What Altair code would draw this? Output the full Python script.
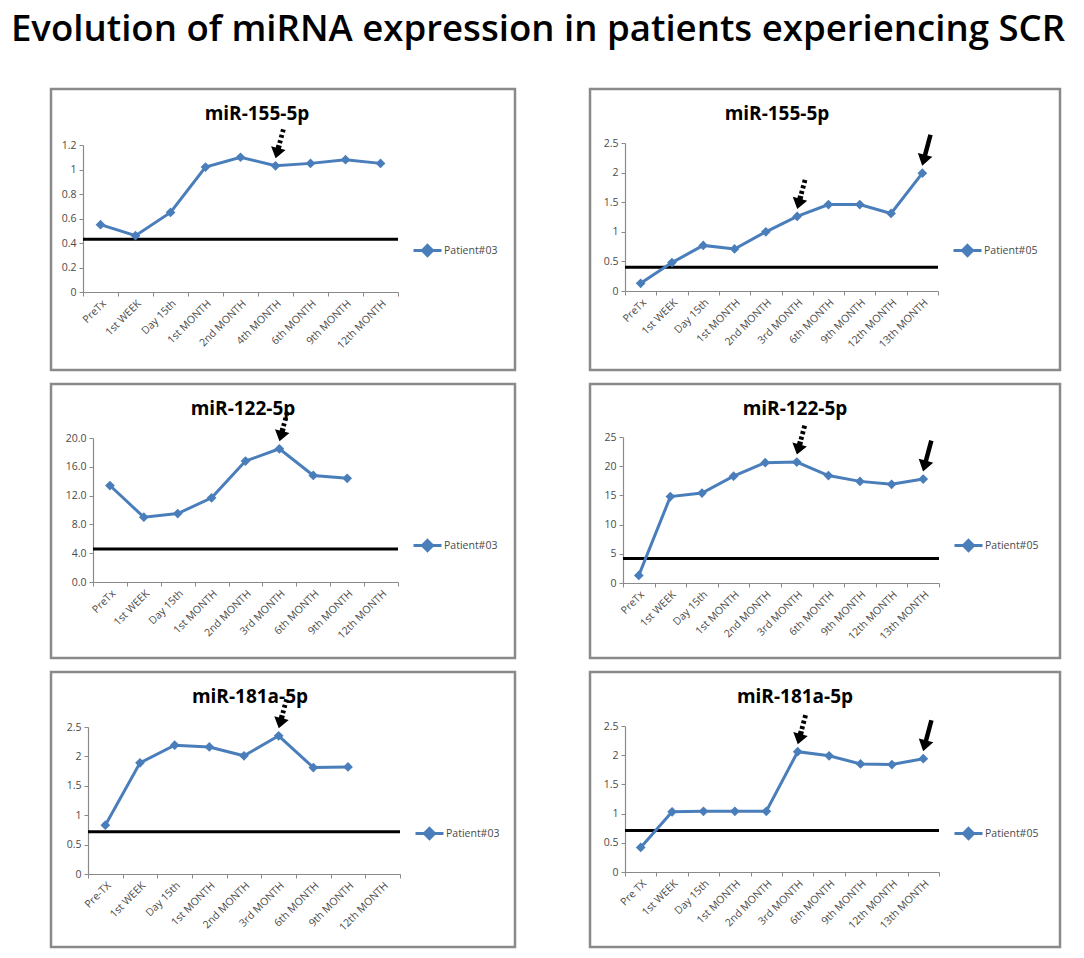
import altair as alt
import pandas as pd

MAIN_TITLE = "Evolution of miRNA expression in patients experiencing SCR"

# ---- categories (x tick labels) ----
cats_155_p03 = ["PreTx", "1st WEEK", "Day 15th", "1st MONTH", "2nd MONTH", "4th MONTH",
                "6th MONTH", "9th MONTH", "12th MONTH"]
cats_122_p03 = ["PreTx", "1st WEEK", "Day 15th", "1st MONTH", "2nd MONTH", "3rd MONTH",
                "6th MONTH", "9th MONTH", "12th MONTH"]
cats_181_p03 = ["Pre-TX", "1st WEEK", "Day 15th", "1st MONTH", "2nd MONTH", "3rd MONTH",
                "6th MONTH", "9th MONTH", "12th MONTH"]
cats_p05 = ["PreTx", "1st WEEK", "Day 15th", "1st MONTH", "2nd MONTH", "3rd MONTH",
            "6th MONTH", "9th MONTH", "12th MONTH", "13th MONTH"]
cats_181_p05 = ["Pre TX", "1st WEEK", "Day 15th", "1st MONTH", "2nd MONTH", "3rd MONTH",
                "6th MONTH", "9th MONTH", "12th MONTH", "13th MONTH"]

# ---- series values ----
vals_155_p03 = [0.55, 0.46, 0.65, 1.02, 1.10, 1.03, 1.05, 1.08, 1.05]
vals_155_p05 = [0.13, 0.48, 0.77, 0.71, 1.00, 1.26, 1.46, 1.46, 1.31, 1.99]
vals_122_p03 = [13.4, 9.0, 9.5, 11.7, 16.8, 18.5, 14.8, 14.4]
vals_122_p05 = [1.3, 14.8, 15.4, 18.3, 20.6, 20.7, 18.4, 17.4, 16.9, 17.8]
vals_181_p03 = [0.83, 1.89, 2.19, 2.16, 2.01, 2.35, 1.81, 1.82]
vals_181_p05 = [0.42, 1.03, 1.04, 1.04, 1.04, 2.06, 1.99, 1.85, 1.84, 1.94]

# ---- threshold (black line) values ----
thr_155_p03, thr_155_p05 = 0.43, 0.40
thr_122_p03, thr_122_p05 = 4.6, 4.2
thr_181_p03, thr_181_p05 = 0.72, 0.71

BLUE = "#4a7ebb"
FONT = "Open Sans"

SOLID_ARROW = "M-0.14,-1 L0.14,-1 L0.14,0.3 L0.47,0.3 L0,1 L-0.47,0.3 L-0.14,0.3 Z"
DOTTED_ARROW = ("M-0.16,-1 L0.16,-1 L0.16,-0.8 L-0.16,-0.8 Z "
                "M-0.16,-0.62 L0.16,-0.62 L0.16,-0.42 L-0.16,-0.42 Z "
                "M-0.16,-0.24 L0.16,-0.24 L0.16,-0.04 L-0.16,-0.04 Z "
                "M-0.18,0.1 L0.18,0.1 L0.18,0.3 L0.5,0.3 L0,1 L-0.5,0.3 L-0.18,0.3 Z")
LEGEND_SYMBOL = "M-1,0 L1,0 M0,-0.36 L0.36,0 L0,0.36 L-0.36,0 Z"


def panel(title, cats, vals, thr, ymax, ystep, yfmt, patient, dotted, solid,
          w, h, x0, x1, ytop, ybot, title_dx):
    n = len(vals)
    df = pd.DataFrame({"t": cats[:n], "v": vals, "p": [patient] * n})
    rule_df = pd.DataFrame({"a": [cats[0]], "b": [cats[-1]], "thr": [thr]})
    xs = alt.Scale(type="band", domain=cats, range=[x0, x1], paddingInner=0, paddingOuter=0)
    ys = alt.Scale(domain=[0, ymax], range=[ybot, ytop], nice=False, zero=True)
    xaxis = alt.Axis(title=None, orient="bottom", offset=-(h - ybot), labelAngle=-45, tickBand="extent",
                     labelFontSize=10.5, labelColor="#4a4a4a", labelFont=FONT, domainColor="#8a8a8a",
                     tickColor="#8a8a8a", tickSize=4, labelPadding=2, grid=False, domainWidth=1.2)
    nt = int(round(ymax / ystep))
    yaxis = alt.Axis(title=None, orient="left", offset=-x0,
                     values=[round(i * ystep, 4) for i in range(nt + 1)],
                     format=yfmt, labelFontSize=10.5, labelColor="#4a4a4a", labelFont=FONT,
                     domainColor="#8a8a8a", tickColor="#8a8a8a", tickSize=4, grid=False,
                     labelPadding=3, domainWidth=1.2)
    x = alt.X("t:N", scale=xs, sort=cats, axis=xaxis)
    y = alt.Y("v:Q", scale=ys, axis=yaxis)

    base = alt.Chart(df)
    line = base.mark_line(color=BLUE, strokeWidth=3).encode(x=x, y=y)
    pts = base.mark_point(shape="diamond", filled=True, size=95, opacity=1).encode(
        x=x, y=y,
        color=alt.Color("p:N", scale=alt.Scale(range=[BLUE]),
                        legend=alt.Legend(title=None, orient="none", legendX=x1 + 14, legendY=146,
                                          symbolType=LEGEND_SYMBOL, symbolSize=784,
                                          symbolStrokeWidth=3, symbolStrokeColor=BLUE,
                                          symbolFillColor=BLUE, symbolOpacity=1,
                                          labelFontSize=10.5, labelColor="#4a4a4a", labelFont=FONT,
                                          labelOffset=1)))
    rule = alt.Chart(rule_df).mark_rule(color="black", strokeWidth=3).encode(
        x=alt.X("a:N", scale=xs, sort=cats, axis=xaxis, bandPosition=0),
        x2=alt.X2("b:N", bandPosition=1),
        y=alt.Y("thr:Q", scale=ys, axis=yaxis))
    layers = [rule, line, pts]
    if dotted:
        layers.append(alt.Chart(df.iloc[dotted]).mark_point(
            shape=DOTTED_ARROW, size=900, filled=True, color="black", opacity=1,
            angle=15, xOffset=4, yOffset=-22).encode(x=x, y=y))
    if solid:
        layers.append(alt.Chart(df.iloc[solid]).mark_point(
            shape=SOLID_ARROW, size=1024, filled=True, color="black", opacity=1,
            angle=15, xOffset=4, yOffset=-23).encode(x=x, y=y))
    return alt.layer(*layers).properties(
        width=w, height=h,
        title=alt.Title(title, fontSize=19, fontWeight="bold", font=FONT, color="black",
                        anchor="middle", offset=-35, dx=title_dx))


LW, RW = 464, 470
p1 = panel("miR-155-5p", cats_155_p03, vals_155_p03, thr_155_p03, 1.2, 0.2, "~g", "Patient#03", [5], [],
           LW, 281, 32, 347, 56, 203, -26)
p2 = panel("miR-155-5p", cats_p05, vals_155_p05, thr_155_p05, 2.5, 0.5, "~g", "Patient#05", [5], [9],
           RW, 281, 35, 348, 54, 202, -48)
p3 = panel("miR-122-5p", cats_122_p03, vals_122_p03, thr_122_p03, 20, 4, ".1f", "Patient#03", [5], [],
           LW, 274, 42, 347, 54, 198, -40)
p4 = panel("miR-122-5p", cats_p05, vals_122_p05, thr_122_p05, 25, 5, "~g", "Patient#05", [5], [9],
           RW, 274, 33, 349, 53, 199, -30)
p5 = panel("miR-181a-5p", cats_181_p03, vals_181_p03, thr_181_p03, 2.5, 0.5, "~g", "Patient#03", [5], [],
           LW, 275, 37, 349, 55, 202, -33)
p6 = panel("miR-181a-5p", cats_181_p05, vals_181_p05, thr_181_p05, 2.5, 0.5, "~g", "Patient#05", [5], [9],
           RW, 275, 35, 349, 54, 200, -30)

chart = alt.vconcat(
    alt.hconcat(p1, p2, spacing=71).resolve_scale(color="independent"),
    alt.hconcat(p3, p4, spacing=71).resolve_scale(color="independent"),
    alt.hconcat(p5, p6, spacing=71).resolve_scale(color="independent"),
    spacing=10,
).properties(
    title=alt.Title(MAIN_TITLE, fontSize=36.6, font=FONT, fontWeight=600, color="black",
                    anchor="middle", offset=39, dx=-17.5),
    padding={"left": 2, "top": 4, "right": 0, "bottom": 0},
).configure_view(stroke="#8a8a8a", strokeWidth=2.5).resolve_scale(color="independent")

chart.save("out.html", embed_options={"renderer": "svg", "actions": False})
